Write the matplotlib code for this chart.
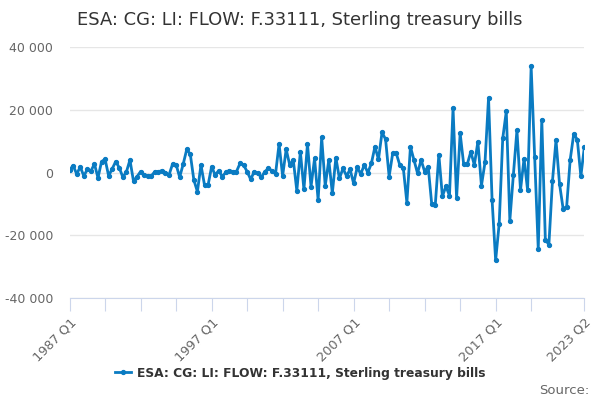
import matplotlib
matplotlib.use("Agg")
import matplotlib.pyplot as plt
from matplotlib.ticker import FuncFormatter

# quarterly values, 1987 Q1 .. 2023 Q2
values = [
    800, 2200, -500, 1800, -1100, 1000, 500, 2700, -1700, 3500,
    4200, -1100, 1200, 3500, 1500, -1500, 200, 4000, -2800, -1300,
    300, -800, -1000, -1100, 250, 250, 600, 0, -800, 2700,
    2500, -1500, 2700, 7400, 5800, -2400, -6100, 2400, -4000, -4000,
    1850, -800, 600, -1300, 50, 600, 300, 300, 2900, 2400,
    300, -2200, 300, -250, -1500, 300, 1300, 600, -500, 9100,
    -1100, 7400, 2400, 4000, -5800, 6600, -5400, 9100, -4500, 4500,
    -8800, 11200, -4300, 4000, -6600, 4700, -1900, 1300, -1100, 1000,
    -3500, 1650, -480, 2400, -50, 2900, 8200, 4200, 12800, 10600,
    -1300, 6100, 6100, 2400, 1300, -9600, 8200, 4000, -250, 4000,
    300, 1900, -10100, -10300, 5700, -7600, -4400, -7400, 20500, -8200,
    12500, 2600, 2600, 6600, 2400, 9800, -4200, 3200, 23800, -8800,
    -28000, -16300, 10900, 19500, -15300, -650, 13500, -5600, 4400, -5600,
    33800, 4900, -24400, 16800, -21400, -23000, -2800, 10300, -3700, -11500,
    -10900, 4100, 12300, 10500, -1200, 8200,
]
quarters = [f"{1987 + i // 4} Q{i % 4 + 1}" for i in range(len(values))]
label_quarters = ["1987 Q1", "1997 Q1", "2007 Q1", "2017 Q1", "2023 Q2"]
series_name = "ESA: CG: LI: FLOW: F.33111, Sterling treasury bills"

color = "#0a7bc2"

fig = plt.figure(figsize=(6, 4), dpi=100)
ax = fig.add_axes([0.116, 0.255, 0.858, 0.6275])

x = list(range(len(values)))
ax.plot(x, values, color=color, lw=2, marker="o", ms=2.8, label=series_name)

ax.set_xlim(0, len(values) - 1)
ax.set_ylim(-40000, 40000)
ax.set_yticks([-40000, -20000, 0, 20000, 40000])
ax.yaxis.set_major_formatter(FuncFormatter(lambda v, p: f"{int(v):,}".replace(",", " ")))
ax.grid(axis="y", color="#e6e6e6", lw=1)
ax.set_axisbelow(True)

tick_pos = list(range(0, 131, 10)) + [len(values) - 1]
ax.set_xticks(tick_pos)
ax.set_xticklabels([quarters[i] if quarters[i] in label_quarters else "" for i in tick_pos],
                   rotation=45, ha="right", rotation_mode="anchor")

for s in ["top", "right", "left"]:
    ax.spines[s].set_visible(False)
ax.spines["bottom"].set_color("#ccd6eb")
ax.tick_params(axis="x", colors="#ccd6eb", length=9, labelcolor="#666666", labelsize=9.3, pad=4)
ax.tick_params(axis="y", length=0, labelcolor="#666666", labelsize=9, pad=12)

fig.text(0.5, 0.95, series_name, ha="center", va="center", fontsize=12.9, color="#333333")
fig.legend(loc="center", bbox_to_anchor=(0.5, 0.067), frameon=False, handlelength=1.3,
           handletextpad=0.5, prop={"size": 8.8, "weight": "bold"}, labelcolor="#333333")
fig.text(0.982, 0.025, "Source:", ha="right", va="center", fontsize=9.5, color="#666666")

fig.savefig("out.png", dpi=100)
